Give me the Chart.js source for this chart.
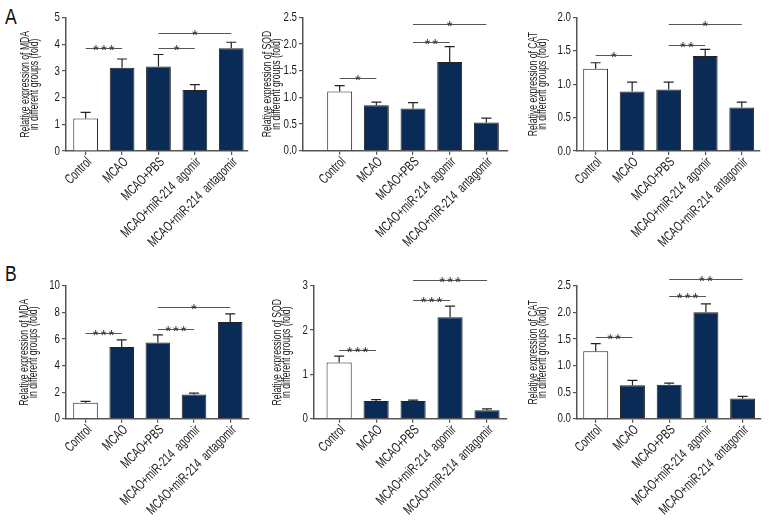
<!DOCTYPE html>
<html>
<head>
<meta charset="utf-8">
<script src="https://cdn.jsdelivr.net/npm/chart.js@4/dist/chart.umd.min.js"></script>
<style>
  body { margin: 0; background: #fff; }
  #wrap { position: relative; width: 780px; height: 528px; overflow: hidden; }
  #wrap canvas { position: absolute; }
  .tag { position: absolute; font: 22px "Liberation Sans", sans-serif; color: #111; line-height: 22px; transform: scaleX(0.8); transform-origin: left top; }
</style>
</head>
<body>
<div id="wrap">
  <div class="tag" style="left:5px; top:6px;">A</div>
  <div class="tag" style="left:5px; top:263px;">B</div>
</div>
<script>
const groups = ['Control', 'MCAO', 'MCAO+PBS', 'MCAO+miR-214  agomir', 'MCAO+miR-214  antagomir'];

// row A
const mdaA = [1.22, 3.12, 3.17, 2.29, 3.85];
const mdaAErr = [0.23, 0.33, 0.45, 0.2, 0.23];
const sodA = [1.11, 0.85, 0.79, 1.66, 0.53];
const sodAErr = [0.11, 0.06, 0.11, 0.29, 0.08];
const catA = [1.23, 0.89, 0.92, 1.42, 0.65];
const catAErr = [0.09, 0.14, 0.11, 0.1, 0.08];

// row B
const mdaB = [1.2, 5.4, 5.72, 1.82, 7.28];
const mdaBErr = [0.1, 0.52, 0.58, 0.1, 0.6];
const sodB = [1.27, 0.4, 0.4, 2.29, 0.19];
const sodBErr = [0.14, 0.03, 0.02, 0.25, 0.03];
const catB = [1.27, 0.63, 0.64, 2.0, 0.38];
const catBErr = [0.14, 0.09, 0.03, 0.16, 0.04];

// significance: [from, to, height, stars]
const sigMdaA = [[0, 1, 3.85, '***'], [2, 3, 3.87, '*'], [2, 4, 4.42, '*']];
const sigSodA = [[0, 1, 1.36, '*'], [2, 3, 2.03, '**'], [2, 4, 2.37, '*']];
const sigCatA = [[0, 1, 1.435, '*'], [2, 3, 1.59, '**'], [2, 4, 1.895, '*']];
const sigMdaB = [[0, 1, 6.42, '***'], [2, 3, 6.72, '***'], [2, 4, 8.37, '*']];
const sigSodB = [[0, 1, 1.56, '***'], [2, 3, 2.67, '***'], [2, 4, 3.13, '***']];
const sigCatB = [[0, 1, 1.54, '**'], [2, 3, 2.3, '***'], [2, 4, 2.63, '**']];

const FONT = '"Liberation Sans", Arial, sans-serif';
const NAVY = '#0b2b57';
const AXIS = '#555';
const TEXT = '#1a1a1a';

const panels = [
  { x: 0,   y: 0,   h: 250, left: 66, right: 248, top: 17.7, bottom: 151,   xMin: -0.54, xMax: 4.46, yMax: 5,   step: 1,   dec: 0, titleX: 25, name: 'MDA', values: mdaA, errors: mdaAErr, sig: sigMdaA },
  { x: 260, y: 0,   h: 250, left: 43, right: 248, top: 17.3, bottom: 150.7, xMin: -1.0,  xMax: 4.59, yMax: 2.5, step: 0.5, dec: 1, titleX: 7,  name: 'SOD', values: sodA, errors: sodAErr, sig: sigSodA },
  { x: 520, y: 0,   h: 250, left: 57, right: 240, top: 17.3, bottom: 151,   xMin: -0.51, xMax: 4.5,  yMax: 2.0, step: 0.5, dec: 1, titleX: 13, name: 'CAT', values: catA, errors: catAErr, sig: sigCatA },
  { x: 0,   y: 265, h: 263, left: 66, right: 249, top: 20.7, bottom: 153.7, xMin: -0.54, xMax: 4.52, yMax: 10,  step: 2,   dec: 0, titleX: 24, name: 'MDA', values: mdaB, errors: mdaBErr, sig: sigMdaB },
  { x: 260, y: 265, h: 263, left: 54, right: 247, top: 20.7, bottom: 153.7, xMin: -0.68, xMax: 4.54, yMax: 3,   step: 1,   dec: 0, titleX: 17, name: 'SOD', values: sodB, errors: sodBErr, sig: sigSodB },
  { x: 520, y: 265, h: 263, left: 57, right: 241, top: 20.7, bottom: 153.7, xMin: -0.51, xMax: 4.5,  yMax: 2.5, step: 0.5, dec: 1, titleX: 13, name: 'CAT', values: catB, errors: catBErr, sig: sigCatB }
];

// error bars (upper only) and significance brackets
const extras = {
  id: 'extras',
  afterDatasetsDraw(chart, args, opts) {
    const { ctx, scales: { x, y } } = chart;
    const meta = chart.getDatasetMeta(0);
    ctx.save();
    ctx.strokeStyle = '#222';
    ctx.lineWidth = 1.2;
    meta.data.forEach((bar, i) => {
      const top = y.getPixelForValue(opts.values[i] + opts.errors[i]);
      ctx.beginPath();
      ctx.moveTo(bar.x, bar.y);
      ctx.lineTo(bar.x, top);
      ctx.moveTo(bar.x - 5, top);
      ctx.lineTo(bar.x + 5, top);
      ctx.stroke();
    });
    ctx.strokeStyle = '#555';
    ctx.lineWidth = 1;
    ctx.fillStyle = '#333';
    ctx.font = '15px ' + FONT;
    ctx.textAlign = 'center';
    ctx.textBaseline = 'alphabetic';
    if ('letterSpacing' in ctx) ctx.letterSpacing = '2px';
    opts.sig.forEach(([a, b, h, label]) => {
      const x1 = x.getPixelForValue(a), x2 = x.getPixelForValue(b);
      const yy = Math.round(y.getPixelForValue(h)) + 0.5;
      ctx.beginPath();
      ctx.moveTo(x1, yy);
      ctx.lineTo(x2, yy);
      ctx.stroke();
      ctx.fillText(label, (x1 + x2) / 2 + 1, yy + 6);
    });
    ctx.restore();
  }
};

// tick labels and axis title, drawn narrow like a condensed face
const labels = {
  id: 'labels',
  afterDraw(chart, args, opts) {
    const { ctx, chartArea, scales: { x, y } } = chart;
    ctx.save();
    ctx.fillStyle = TEXT;

    ctx.font = '14px ' + FONT;
    ctx.textAlign = 'right';
    ctx.textBaseline = 'middle';
    const sx = 120 / ctx.measureText(groups[4]).width;
    groups.forEach((g, i) => {
      ctx.save();
      ctx.translate(x.getPixelForValue(i) + 4, x.top + 9);
      ctx.rotate(-Math.PI / 4);
      ctx.scale(sx, 1);
      ctx.fillText(g, 0, 0);
      ctx.restore();
    });

    ctx.font = '13.5px ' + FONT;
    y.ticks.forEach(t => {
      ctx.save();
      ctx.translate(chartArea.left - 6, y.getPixelForValue(t.value));
      ctx.scale(0.72, 1);
      ctx.fillText(t.value.toFixed(opts.dec), 0, 0);
      ctx.restore();
    });

    ctx.font = '13px ' + FONT;
    ctx.textAlign = 'center';
    const sy = 107 / ctx.measureText('Relative expression of MDA').width;
    const midY = (chartArea.top + chartArea.bottom) / 2;
    [['Relative expression of ' + opts.name, 0], ['in different groups (fold)', 9.5]].forEach(([txt, dx]) => {
      ctx.save();
      ctx.translate(opts.titleX + dx, midY);
      ctx.rotate(-Math.PI / 2);
      ctx.scale(sy, 1);
      ctx.fillText(txt, 0, 0);
      ctx.restore();
    });
    ctx.restore();
  }
};

const wrap = document.getElementById('wrap');

panels.forEach(p => {
  const canvas = document.createElement('canvas');
  canvas.width = 260;
  canvas.height = p.h;
  canvas.style.left = p.x + 'px';
  canvas.style.top = p.y + 'px';
  wrap.appendChild(canvas);

  new Chart(canvas, {
    type: 'bar',
    data: {
      datasets: [{
        data: p.values.map((v, i) => ({ x: i, y: v })),
        backgroundColor: p.values.map((v, i) => i === 0 ? '#fff' : NAVY),
        borderColor: '#222',
        borderWidth: 1,
        barPercentage: 0.68,
        categoryPercentage: 1
      }]
    },
    options: {
      responsive: false,
      animation: false,
      devicePixelRatio: 1,
      layout: { padding: { top: p.top, right: 260 - p.right, left: 0, bottom: 0 } },
      plugins: {
        legend: { display: false },
        tooltip: { enabled: false },
        extras: { values: p.values, errors: p.errors, sig: p.sig },
        labels: { dec: p.dec, name: p.name, titleX: p.titleX }
      },
      scales: {
        x: {
          type: 'linear',
          min: p.xMin,
          max: p.xMax,
          offset: false,
          afterBuildTicks: s => { s.ticks = groups.map((g, i) => ({ value: i })); },
          afterFit: s => { s.height = p.h - p.bottom; },
          border: { color: AXIS, width: 1.5 },
          grid: { display: true, offset: false, drawOnChartArea: false, tickLength: 4, color: AXIS, lineWidth: 1.2 },
          ticks: { display: false }
        },
        y: {
          min: 0,
          max: p.yMax,
          afterFit: s => { s.width = p.left; },
          border: { color: AXIS, width: 1.5 },
          grid: { display: true, drawOnChartArea: false, tickLength: 4, color: AXIS, lineWidth: 1.2 },
          ticks: { display: false, stepSize: p.step }
        }
      }
    },
    plugins: [extras, labels]
  });
});
</script>
</body>
</html>
